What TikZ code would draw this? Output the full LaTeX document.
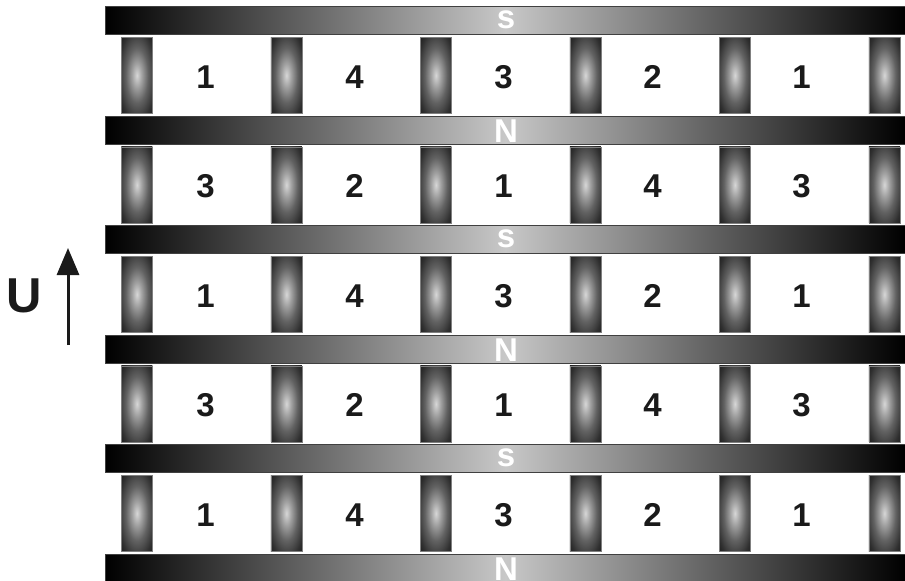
\documentclass[tikz,border=0pt]{standalone}
\usepackage{fontspec}
\setmainfont{Liberation Sans}
\usetikzlibrary{arrows.meta}
\definecolor{midgray}{RGB}{200,200,200}
\definecolor{ink}{RGB}{26,26,26}
\definecolor{mg0}{RGB}{215,215,215}
\definecolor{mg1}{RGB}{160,160,160}
\definecolor{mg2}{RGB}{98,98,98}
\definecolor{mg3}{RGB}{48,48,48}
\definecolor{mg4}{RGB}{14,14,14}
\definecolor{mg5}{RGB}{4,4,4}
\pgfdeclareradialshading{magshade}{\pgfpoint{0bp}{0bp}}{color(0bp)=(mg0); color(8bp)=(mg1); color(18bp)=(mg2); color(30bp)=(mg3); color(42bp)=(mg4); color(50bp)=(mg5)}
\begin{document}
\begin{tikzpicture}[x=1pt,y=-1pt,
 bar/.style={rectangle, inner sep=0pt, minimum width=800pt, minimum height=28pt,
   left color=black, right color=black, middle color=midgray,
   draw=black!75, line width=1.2pt, anchor=north west},
 magnet/.style={rectangle, inner sep=0pt, minimum width=31pt, minimum height=76pt,
   shading=magshade, draw=black!50, line width=0.8pt, anchor=north west},
 num/.style={font=\fontsize{33}{33}\selectfont\bfseries, text=ink, anchor=base, inner sep=0pt},
 pole/.style={font=\fontsize{33}{33}\selectfont\bfseries, text=white, anchor=base, inner sep=0pt}]
\useasboundingbox (0,0) rectangle (905,581);
% bars with pole letters
\foreach \r/\p/\dy in {0/s/22,1/N/27,2/s/22,3/N/27,4/s/22,5/N/26.5}{
  \pgfmathsetmacro{\t}{6+109.5*\r}
  \node[bar] (bar\r) at (105,\t) {};
  \node[pole] (pole\r) at (506,\t+\dy) {\p};
}
% magnets
\foreach \r in {0,...,4}{
  \pgfmathsetmacro{\t}{6+109.5*\r+31}
  \foreach \c in {0,...,5}{
    \node[magnet] (m\r\c) at (121+149.5*\c,\t) {};
  }
}
% numbers
\foreach \r/\seq in {0/{1,4,3,2,1},1/{3,2,1,4,3},2/{1,4,3,2,1},3/{3,2,1,4,3},4/{1,4,3,2,1}}{
  \pgfmathsetmacro{\t}{6+109.5*\r+82}
  \foreach \d [count=\c from 0] in \seq {
    \node[num] (n\r\c) at (205.5+149*\c,\t) {\d};
  }
}
% arrow and U
\coordinate (a0) at (68,345);
\coordinate (a1) at (68,248);
\draw[-{Triangle[width=22pt,length=27pt]}, line width=3pt, ink] (a0) -- (a1);
\node[font=\fontsize{49}{49}\selectfont\bfseries, text=ink, inner sep=0pt] (U) at (24,295.5) {U};
\end{tikzpicture}
\end{document}
